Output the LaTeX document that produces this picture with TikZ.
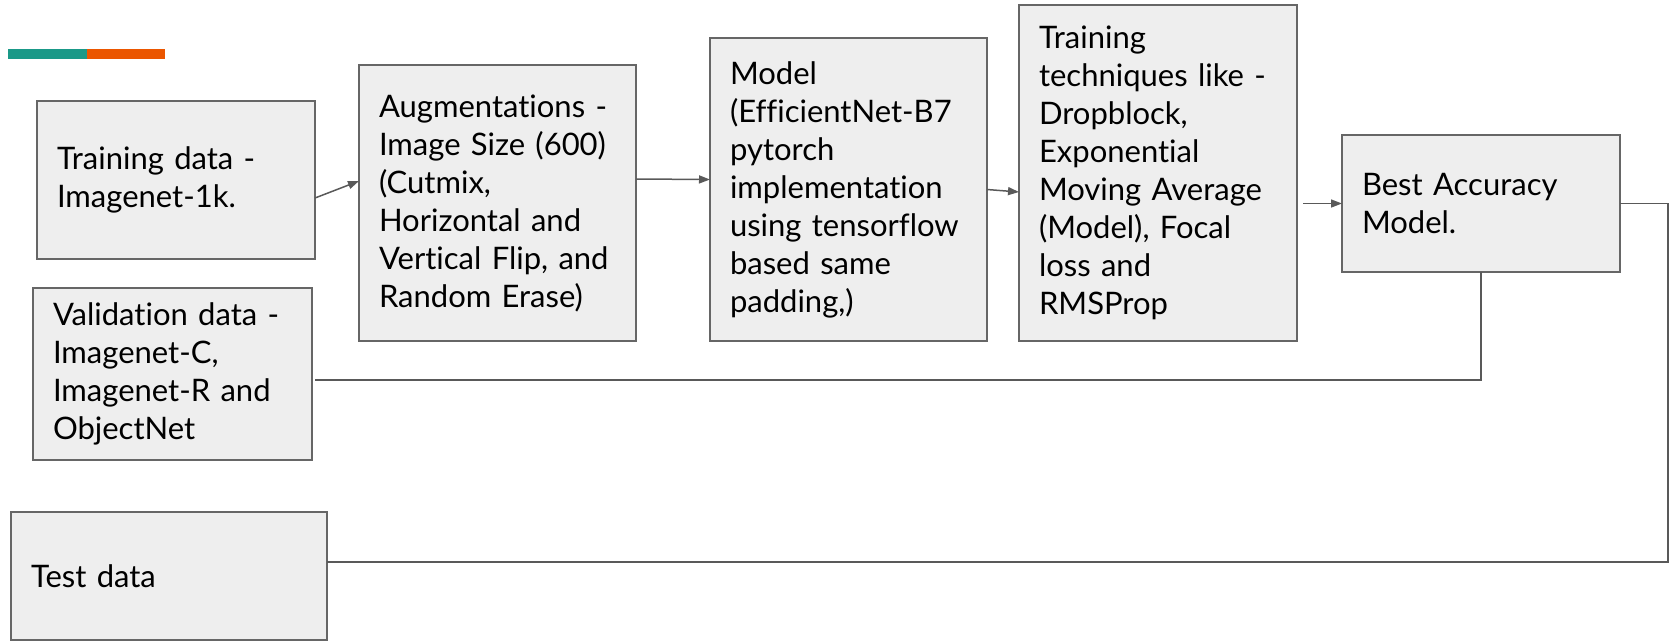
\documentclass[tikz,border=0pt]{standalone}
\usepackage{fontspec}
\setmainfont{Lato}[Ligatures=NoCommon]
\usetikzlibrary{arrows.meta,calc,positioning}
\definecolor{boxfill}{HTML}{EEEEEE}
\definecolor{boxline}{HTML}{666666}
\definecolor{linkline}{HTML}{595959}
\definecolor{barteal}{HTML}{1A9988}
\definecolor{barorange}{HTML}{EB5600}
\tikzset{
  stage/.style={draw=boxline,fill=boxfill,line width=2pt,align=left,
                anchor=north west,inner xsep=20pt,inner ysep=0pt,outer sep=0pt,
                font=\fontsize{31}{38}\selectfont},
  link/.style={draw=linkline,line width=1.5pt},
  flow/.style={link,-{Triangle[length=11pt,width=8pt]}}
}
\begin{document}
\begin{tikzpicture}[x=1pt,y=-1pt]
%
  \useasboundingbox (0,0) rectangle (1675,641) ;
%
  \fill [barteal]   (8,49)  rectangle (87,59) ;
  \fill [barorange] (87,49) rectangle (165,59) ;
%
  \node [stage,text width=238pt,minimum height=158pt] (train) at (37,101)
        {Training data -\\Imagenet-1k.} ;
  \node [stage,text width=237pt,minimum height=276pt] (aug) at (359,65)
        {Augmentations -\\Image Size (600)\\(Cutmix,\\Horizontal and\\Vertical Flip, and\\Random Erase)} ;
  \node [stage,text width=237pt,minimum height=303pt] (model) at (710,38)
        {Model\\(EfficientNet-B7\\pytorch\\implementation\\using tensorflow\\based same\\padding,)} ;
  \node [stage,text width=238pt,minimum height=336pt] (tech) at (1019,5)
        {Training\\techniques like -\\Dropblock,\\Exponential\\Moving Average\\(Model), Focal\\loss and\\RMSProp} ;
  \node [stage,text width=238pt,minimum height=137pt] (best) at (1342,135)
        {Best Accuracy\\Model.} ;
  \node [stage,text width=239pt,minimum height=172pt] (valid) at (33,288)
        {Validation data -\\Imagenet-C,\\Imagenet-R and\\ObjectNet} ;
  \node [stage,text width=276pt,minimum height=128pt] (test) at (11,512)
        {Test data} ;
%
  \coordinate (turn) at (1668,562) ;
%
  \draw [flow] ([yshift=-18pt]train.east) -- ([yshift=22pt]aug.west) ;
  \draw [flow] ([yshift=24pt]aug.east) -- ([yshift=10pt]model.west) ;
  \draw [flow] (model.east) -- ([yshift=-19pt]tech.west) ;
  \draw [flow] ([xshift=6pt]tech.east |- best.west) -- (best.west) ;
%
  \draw [link] (best.east) -| (turn) -- ([yshift=14pt]test.east) ;
  \draw [link] (best.south) |- ([xshift=3pt,yshift=-6pt]valid.east) ;
%
\end{tikzpicture}
\end{document}
